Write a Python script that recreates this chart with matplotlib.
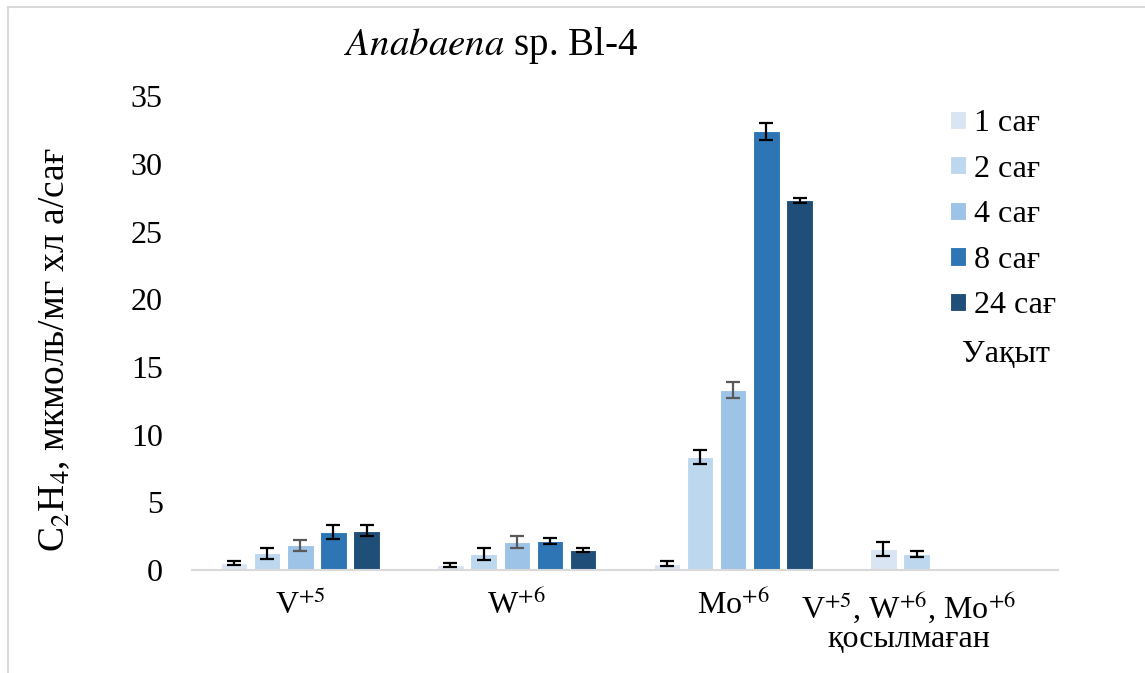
import numpy as np
import matplotlib.pyplot as plt
from matplotlib.patches import Rectangle

plt.rcParams['font.family'] = ['Liberation Serif', 'DejaVu Serif']
plt.rcParams['mathtext.fontset'] = 'stix'

# data
groups = ['V$^{+5}$', 'W$^{+6}$', 'Mo$^{+6}$', 'V$^{+5}$, W$^{+6}$, Mo$^{+6}$\nқосылмаған']
series = ['1 сағ', '2 сағ', '4 сағ', '8 сағ', '24 сағ']
values = [
    [0.52, 0.37, 0.47, 1.55],
    [1.23, 1.18, 8.37, 1.18],
    [1.82, 2.07, 13.3, 0.0],
    [2.83, 2.16, 32.4, 0.0],
    [2.9, 1.48, 27.3, 0.0],
]
errors = [
    [0.15, 0.14, 0.2, 0.52],
    [0.42, 0.42, 0.52, 0.22],
    [0.41, 0.42, 0.6, 0.0],
    [0.52, 0.22, 0.6, 0.0],
    [0.41, 0.12, 0.2, 0.0],
]
colors = ['#dae5f3', '#bdd7ee', '#9dc3e6', '#2e75b6', '#1f4e79']
err_colors = ['black', 'black', '#595959', 'black', 'black']

fig = plt.figure(figsize=(11.45, 6.73), dpi=100)
ax = fig.add_axes([0.1677, 0.153, 0.7563, 0.704])

x = np.arange(len(groups))
pitch = 0.1533
width = 0.1224
for i, name in enumerate(series):
    vals = np.array(values[i])
    errs = np.array(errors[i])
    pos = x + (i - 2) * pitch
    ax.bar(pos, vals, width, color=colors[i], edgecolor='white', linewidth=0.8, label=name, zorder=2)
    mask = vals > 0
    ax.errorbar(pos[mask], vals[mask], yerr=errs[mask], fmt='none', ecolor=err_colors[i],
                elinewidth=1.6, capsize=5, capthick=1.6, zorder=3)

ax.set_xlim(-0.5, 3.5)
ax.set_ylim(0, 35)
ax.set_yticks(range(0, 36, 5))
ax.tick_params(axis='y', length=0, labelsize=23, pad=21)
ax.tick_params(axis='x', length=0, labelsize=23, pad=14)
ax.set_xticks([0, 1, 2, 2.81])
ax.set_xticklabels(groups, linespacing=1.0)
for s in ['top', 'right', 'left']:
    ax.spines[s].set_visible(False)
ax.spines['bottom'].set_color('#d9d9d9')
ax.spines['bottom'].set_linewidth(1.5)

fig.text(491 / 1145, 1 - 45 / 673, r'$\it{Anabaena}$ sp. Bl-4', fontsize=28, ha='center', va='center')
fig.text(55 / 1145, 1 - 350 / 673, 'C$_2$H$_4$, мкмоль/мг хл а/сағ', fontsize=27,
         rotation=90, ha='center', va='center')

ax.legend(loc='upper left', bbox_to_anchor=(950 / 1145, 1 - 109 / 673), bbox_transform=fig.transFigure,
          frameon=False, fontsize=23, handlelength=0.5, handleheight=0.5, handletextpad=0.25,
          labelspacing=0.52, borderpad=0, borderaxespad=0)
fig.text(1006 / 1145, 1 - 354 / 673, 'Уақыт', fontsize=23, ha='center', va='center')

fig.patches.append(Rectangle((8 / 1145, -0.1), 1.2, 1 - 7 / 673 + 0.1, transform=fig.transFigure,
                             fill=False, edgecolor='#d9d9d9', linewidth=1.5))

fig.savefig('out.png', dpi=100)
